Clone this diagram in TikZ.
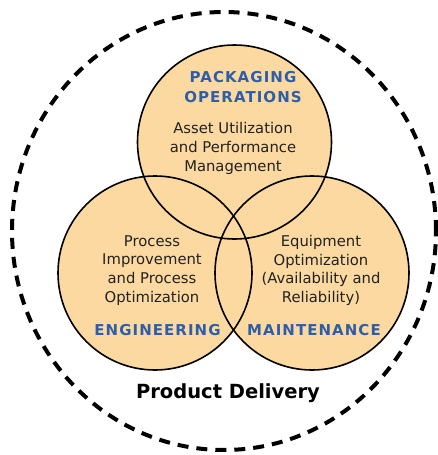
\documentclass[tikz,border=0pt]{standalone}
\usepackage{fontspec}
\setmainfont{DejaVu Sans}
\newfontfamily\lblfont[LetterSpace=7]{DejaVu Sans}
\definecolor{peach}{RGB}{252,217,160}
\definecolor{lblblue}{RGB}{46,94,170}
\definecolor{txtgray}{RGB}{34,34,34}
\tikzset{
  vennfill/.style={circle, minimum size=194pt, inner sep=0pt, fill=peach},
  vennline/.style={circle, minimum size=194pt, inner sep=0pt, draw=black, line width=1.6pt},
  bodytext/.style={align=center, text=txtgray, font=\fontsize{14.8}{18.8}\selectfont},
  lbltext/.style={align=center, text=lblblue, font=\lblfont\bfseries\fontsize{15}{20}\selectfont},
  outer/.style={ellipse, draw=black, line width=4pt, dash pattern=on 11pt off 8pt, minimum width=424pt, minimum height=438pt, inner sep=0pt}
}
\usetikzlibrary{shapes.geometric}
\begin{document}
\begin{tikzpicture}[x=1pt,y=-1pt]
\useasboundingbox (0,0) rectangle (438,455);
\node[outer] (outerring) at (224,231) {};
\node[vennfill] (topf) at (234.5,142) {};
\node[vennfill] (leftf) at (155,273) {};
\node[vennfill] (rightf) at (312,273) {};
\node[vennline] (top) at (234.5,142) {};
\node[vennline] (left) at (155,273) {};
\node[vennline] (right) at (312,273) {};
\node[lbltext] (pack) at (243,87) {PACKAGING\\OPERATIONS};
\node[bodytext] (asset) at (233,148.5) {Asset Utilization\\and Performance\\Management};
\node[bodytext] (proc) at (152,270.5) {Process\\Improvement\\and Process\\Optimization};
\node[bodytext] (equip) at (321,270.5) {Equipment\\Optimization\\(Availability and\\Reliability)};
\node[lbltext] (eng) at (157.5,330) {ENGINEERING};
\node[lbltext] (maint) at (314,330) {MAINTENANCE};
\node[font=\bfseries\fontsize{19.5}{22}\selectfont, text=black] (prod) at (228,393) {Product Delivery};
\end{tikzpicture}
\end{document}
